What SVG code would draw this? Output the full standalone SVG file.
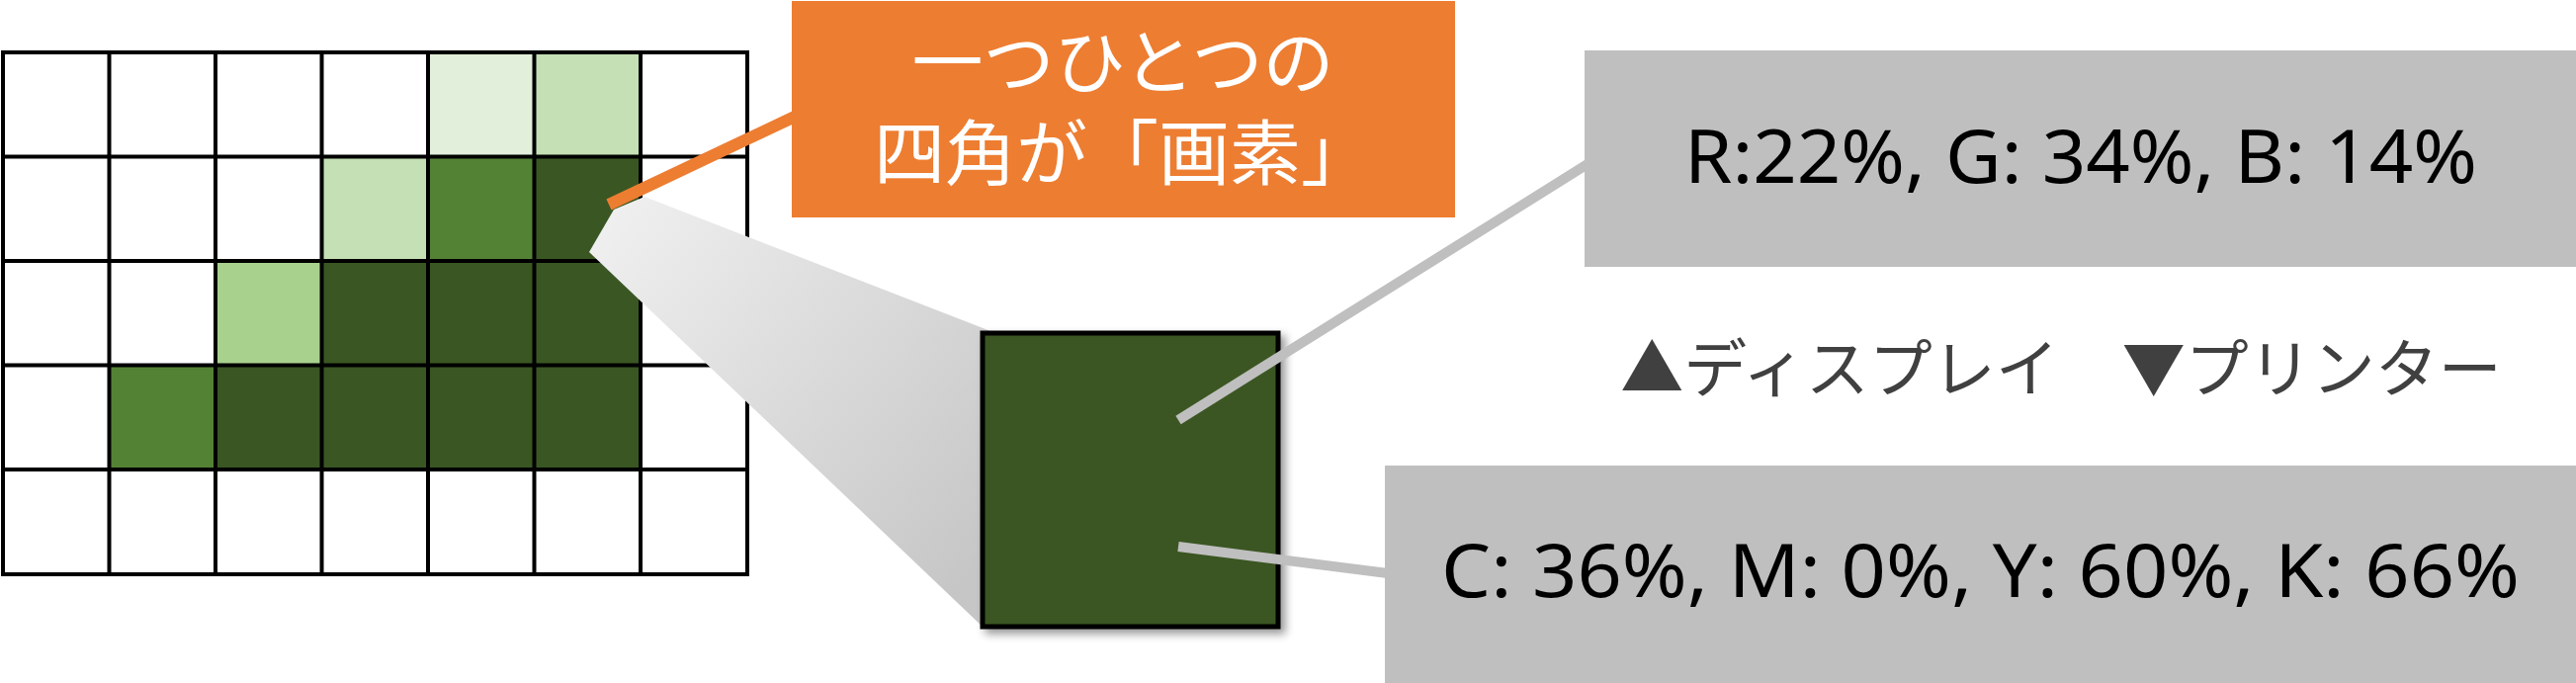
<svg xmlns="http://www.w3.org/2000/svg" width="2606" height="691" viewBox="0 0 2606 691">
<style>
.grid{stroke:#000;stroke-width:4;fill:none}
.lt1{fill:#E2EFDA}.lt2{fill:#C5E0B4}.lt3{fill:#A9D18E}.mid{fill:#548235}.dk{fill:#3A5723}
.jp{font-family:"Noto Sans CJK JP","Noto Sans",sans-serif}
.lat{font-family:"Noto Sans","Open Sans",sans-serif;fill:#000;font-size:75px}
.gbox{fill:#BFBFBF}
.gline{stroke:#BFBFBF;stroke-width:10;fill:none}
</style>
<defs>
<linearGradient id="cone" x1="600" y1="220" x2="1000" y2="560" gradientUnits="userSpaceOnUse">
<stop offset="0" stop-color="#F0F0F0"/>
<stop offset="1" stop-color="#C6C6C6"/>
</linearGradient>
<filter id="shadow" x="-20%" y="-20%" width="140%" height="140%">
<feDropShadow dx="5" dy="5" stdDeviation="4" flood-color="#000" flood-opacity="0.4"/>
</filter>
</defs>
<rect width="2606" height="691" fill="#fff"/>
<g id="pixel-grid">
<rect class="lt1" x="433" y="53" width="107.5" height="105.6"/>
<rect class="lt2" x="540.5" y="53" width="107.5" height="105.6"/>
<rect class="lt2" x="325.5" y="158.6" width="107.5" height="105.4"/>
<rect class="mid" x="433" y="158.6" width="107.5" height="105.4"/>
<rect class="dk" x="540.5" y="158.6" width="107.5" height="105.4"/>
<rect class="lt3" x="218" y="264" width="107.5" height="105.5"/>
<rect class="dk" x="325.5" y="264" width="322.5" height="105.5"/>
<rect class="mid" x="110.5" y="369.5" width="107.5" height="105.5"/>
<rect class="dk" x="218" y="369.5" width="430" height="105.5"/>
<path class="grid" d="M3 53H756M3 158.6H756M3 264H756M3 369.5H756M3 475H756M3 581H756M3 51V583M110.5 51V583M218 51V583M325.5 51V583M433 51V583M540.5 51V583M648 51V583M756 51V583"/>
</g>
<g id="zoom-cone">
<polygon points="652,199 1010,338 994,634 596,255 621,212" fill="url(#cone)"/>
</g>
<g id="connectors">
<line x1="616" y1="207" x2="804" y2="118" stroke="#ED7D31" stroke-width="12"/>
</g>
<g id="pixel-zoom">
<rect x="994" y="337" width="299" height="297" fill="#3A5723" stroke="#000" stroke-width="5" filter="url(#shadow)"/>
</g>
<g id="connectors-gray">
<line class="gline" x1="1192" y1="425" x2="1606" y2="166"/>
<line class="gline" x1="1192" y1="553" x2="1404" y2="580"/>
</g>
<g id="label-pixel">
<rect x="801" y="1" width="671" height="219" fill="#ED7D31"/>
<text class="jp" x="1136" y="89" font-size="72" fill="#fff" text-anchor="middle">一つひとつの</text>
<text class="jp" x="1136" y="181" font-size="72" fill="#fff" text-anchor="middle">四角が「画素」</text>
</g>
<g id="label-rgb">
<rect class="gbox" x="1603" y="51" width="1003" height="219"/>
<text class="lat" x="2105" y="185" text-anchor="middle" textLength="802" lengthAdjust="spacingAndGlyphs">R:22%, G: 34%, B: 14%</text>
</g>
<g id="legend">
<text class="jp" x="2085" y="396" font-size="64" fill="#404040" text-anchor="middle">▲ディスプレイ　▼プリンター</text>
</g>
<g id="label-cmyk">
<rect class="gbox" x="1401" y="471" width="1205" height="220"/>
<text class="lat" x="2003.5" y="604" text-anchor="middle" textLength="1091" lengthAdjust="spacingAndGlyphs">C: 36%, M: 0%, Y: 60%, K: 66%</text>
</g>
</svg>
